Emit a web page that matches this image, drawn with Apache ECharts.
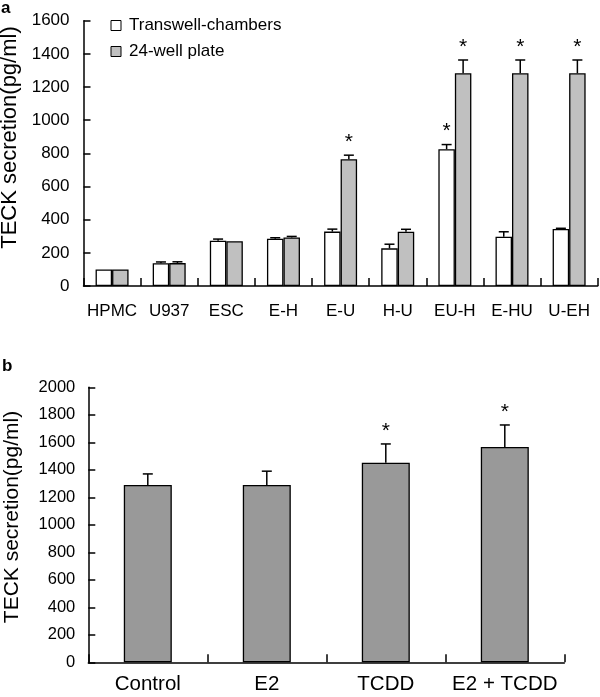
<!DOCTYPE html>
<html>
<head>
<meta charset="utf-8">
<script src="https://cdn.jsdelivr.net/npm/echarts@6/dist/echarts.min.js"></script>
<style>
html,body{margin:0;padding:0;background:#fff;}
#chart{width:600px;height:697px;}
</style>
</head>
<body>
<div id="chart"></div>
<script>
// ---- Panel a data ----
var categoriesA = ['HPMC', 'U937', 'ESC', 'E-H', 'E-U', 'H-U', 'EU-H', 'E-HU', 'U-EH'];
var seriesNamesA = ['Transwell-chambers', '24-well plate'];
var transwell = [100, 137, 273, 285, 328, 227, 825, 297, 344];
var transwellErr = [0, 8, 10, 6, 15, 25, 28, 30, 4];
var transwellSig = [0, 0, 0, 0, 0, 0, 1, 0, 0];
var plate = [100, 138, 270, 293, 764, 327, 1283, 1283, 1283];
var plateErr = [0, 8, 0, 6, 25, 15, 80, 80, 80];
var plateSig = [0, 0, 0, 0, 1, 0, 1, 1, 1];
var ticksA = {min: 0, max: 1600, interval: 200};

// ---- Panel b data ----
var categoriesB = ['Control', 'E2', 'TCDD', 'E2 + TCDD'];
var valuesB = [1290, 1290, 1452, 1566];
var errB = [80, 100, 136, 160];
var sigB = [0, 0, 1, 1];
var ticksB = {min: 0, max: 2000, interval: 200};

var yTitle = 'TECK secretion(pg/ml)';

var FONT = '"Liberation Sans", Arial, Helvetica, sans-serif';
var BAR_W_A = 16.5;
var BAR_W_B = 48;
var TICK_COLOR = '#000';

function errSeries(xi, yi, vals, errs, sigs, offset) {
  var data = vals.map(function (v, i) { return [i, v, errs[i], sigs[i]]; });
  return {
    type: 'custom',
    xAxisIndex: xi, yAxisIndex: yi,
    z: 10,
    silent: true,
    data: data,
    encode: {x: 0, y: 1},
    renderItem: function (params, api) {
      var idx = api.value(0), v = api.value(1), e = api.value(2), s = api.value(3);
      var base = api.coord([idx, v]);
      var top = api.coord([idx, v + e]);
      var x = base[0] + offset;
      var children = [];
      if (e > 0) {
        children.push({type: 'line', shape: {x1: x, y1: base[1], x2: x, y2: top[1]}, style: {stroke: '#000', lineWidth: 1.5}});
        children.push({type: 'line', shape: {x1: x - 5, y1: top[1], x2: x + 5, y2: top[1]}, style: {stroke: '#000', lineWidth: 1.5}});
      }
      if (s) {
        children.push({type: 'text', x: x, y: top[1] - 13, style: {text: '*', font: '21px ' + FONT, fill: '#000', textAlign: 'center', textVerticalAlign: 'middle'}});
      }
      return {type: 'group', children: children};
    }
  };
}

function plain(v) { return String(v); }

var axisLabelCommon = {color: '#000', fontFamily: FONT};

function xAxisDef(grid, cats, fs, margin) {
  return {
    type: 'category', gridIndex: grid, data: cats,
    axisLine: {show: true, onZero: false, lineStyle: {color: '#000', width: 1.5}},
    axisTick: {show: true, interval: 0, inside: true, length: 8, lineStyle: {color: TICK_COLOR, width: 1.5}},
    axisLabel: Object.assign({interval: 0, fontSize: fs, margin: margin}, axisLabelCommon),
    splitLine: {show: false}
  };
}
function yAxisDef(grid, t, fs, margin) {
  return {
    type: 'value', gridIndex: grid, min: t.min, max: t.max, interval: t.interval,
    axisLine: {show: true, lineStyle: {color: '#000', width: 1.5}},
    axisTick: {show: true, inside: true, length: 7, lineStyle: {color: TICK_COLOR, width: 1.5}},
    axisLabel: Object.assign({fontSize: fs, margin: margin, formatter: plain}, axisLabelCommon),
    splitLine: {show: false}
  };
}

var option = {
  animation: false,
  backgroundColor: '#fff',
  textStyle: {fontFamily: FONT},
  grid: [
    {left: 83.5, top: 20.7, width: 514.2, height: 265.3, containLabel: false},
    {left: 88.3, top: 387.3, width: 476, height: 275, containLabel: false}
  ],
  legend: {
    orient: 'vertical',
    left: 110.5, top: 16.5,
    padding: 0,
    itemWidth: 10, itemHeight: 10,
    itemGap: 8,
    icon: 'rect',
    textStyle: {fontSize: 17, color: '#000', fontFamily: FONT, lineHeight: 18, padding: [0, 0, 0, 3]},
    data: [
      {name: seriesNamesA[0], itemStyle: {color: '#fff', borderColor: '#000', borderWidth: 1}},
      {name: seriesNamesA[1], itemStyle: {color: '#c0c0c0', borderColor: '#000', borderWidth: 1}}
    ]
  },
  xAxis: [xAxisDef(0, categoriesA, 17, 17), xAxisDef(1, categoriesB, 20.5, 12)],
  yAxis: [yAxisDef(0, ticksA, 17, 14), yAxisDef(1, ticksB, 16.5, 13)],
  series: [
    {
      name: seriesNamesA[0], type: 'bar', xAxisIndex: 0, yAxisIndex: 0,
      data: transwell, barWidth: BAR_W_A, barGap: '0%',
      itemStyle: {color: '#fff', borderColor: '#000', borderWidth: 1.3}
    },
    {
      name: seriesNamesA[1], type: 'bar', xAxisIndex: 0, yAxisIndex: 0,
      data: plate, barWidth: BAR_W_A, barGap: '0%',
      itemStyle: {color: '#c0c0c0', borderColor: '#000', borderWidth: 1.3}
    },
    errSeries(0, 0, transwell, transwellErr, transwellSig, -BAR_W_A / 2),
    errSeries(0, 0, plate, plateErr, plateSig, BAR_W_A / 2),
    {
      name: 'b', type: 'bar', xAxisIndex: 1, yAxisIndex: 1,
      data: valuesB, barWidth: BAR_W_B,
      itemStyle: {color: '#999999', borderColor: '#000', borderWidth: 1.3}
    },
    errSeries(1, 1, valuesB, errB, sigB, 0)
  ],
  graphic: [
    {type: 'text', left: 1, top: 0, style: {text: 'a', font: 'bold 17px ' + FONT, fill: '#000'}},
    {type: 'text', left: 2, top: 358, style: {text: 'b', font: 'bold 17px ' + FONT, fill: '#000'}},
    {type: 'text', x: 10, y: 137.5, rotation: Math.PI / 2, style: {text: yTitle, font: '22px ' + FONT, fill: '#000', textAlign: 'center', textVerticalAlign: 'middle'}},
    {type: 'text', x: 12.5, y: 517, rotation: Math.PI / 2, style: {text: yTitle, font: '21px ' + FONT, fill: '#000', textAlign: 'center', textVerticalAlign: 'middle'}}
  ]
};

var chart = echarts.init(document.getElementById('chart'), null, {renderer: 'canvas'});
chart.setOption(option);
</script>
</body>
</html>
